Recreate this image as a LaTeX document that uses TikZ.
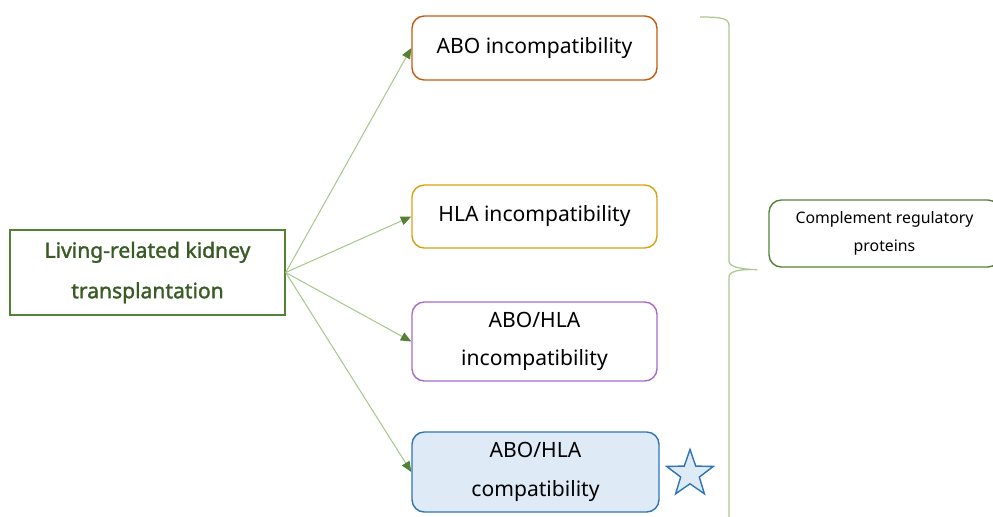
\documentclass[tikz,border=0pt]{standalone}
\usepackage{fontspec}
\setmainfont{Noto Sans}
\newfontfamily\rootfont{Noto Sans}[FakeBold=1.6]
\usetikzlibrary{arrows.meta, positioning, shapes.geometric}
\definecolor{leafgreen}{HTML}{548235}
\definecolor{palegreen}{HTML}{A9C98F}
\definecolor{aboorange}{HTML}{C55A11}
\definecolor{hlaamber}{HTML}{D9A012}
\definecolor{mixpurple}{HTML}{A66BCB}
\definecolor{okblue}{HTML}{2E75B6}
\definecolor{okfill}{HTML}{DEEBF7}
\tikzset{
    rootbox/.style={
        rectangle,
        draw=leafgreen,
        line width=0.8pt,
        minimum width=5.5cm,
        minimum height=1.7cm,
        align=center,
        text=leafgreen!70!black,
        font=\large\rootfont
    },
    groupbox/.style={
        rectangle,
        rounded corners=7pt,
        line width=0.8pt,
        minimum width=4.9cm,
        align=center,
        font=\large
    },
    notebox/.style={
        rectangle,
        rounded corners=7pt,
        draw=leafgreen,
        line width=0.8pt,
        minimum width=4.62cm,
        minimum height=1.34cm,
        align=center,
        font=\small
    },
    link/.style={
        draw=palegreen,
        line width=0.6pt,
        -{Triangle[length=6pt, width=5pt, color=leafgreen]}
    }
}

\begin{document}
\begin{tikzpicture}
\useasboundingbox (0,0) rectangle (19.86,10.32);

% root and the four groups
\node[rootbox] (root) at (2.95,4.87) {Living-related kidney\\[9pt]transplantation};

\node[groupbox, draw=aboorange, minimum height=1.28cm] (aboinc) at (10.69,9.36) {ABO incompatibility};
\node[groupbox, draw=hlaamber, minimum height=1.26cm] (hlainc) at (10.69,5.99) {HLA incompatibility};
\node[groupbox, draw=mixpurple, minimum height=1.58cm] (bothinc) at (10.69,3.49) {ABO/HLA\\[8pt]incompatibility};
\node[groupbox, draw=okblue, fill=okfill, minimum width=4.94cm, minimum height=1.6cm] (bothok) at (10.71,0.88) {ABO/HLA\\[8pt]compatibility};

\node[star, star points=5, star point ratio=2.5, draw=okblue, fill=okfill, line width=0.8pt, minimum size=0.98cm, inner sep=0pt] (mark) at (13.8,0.84) {};

% arrows from the root
\draw[link] (root.east) -- (aboinc.west);
\draw[link] (root.east) -- (hlainc.west);
\draw[link] (root.east) -- (bothinc.west);
\draw[link] (root.east) -- (bothok.west);

% brace and note
\node[notebox] (crp) at (17.69,5.65) {Complement regulatory\\[5pt]proteins};
\coordinate (tip) at ([xshift=-0.22cm,yshift=-0.04cm]crp.south west);
\draw[palegreen, line width=0.7pt] (14.0,9.98) .. controls (14.45,9.98) and (14.58,9.95) .. (14.58,9.8)
    -- (14.58,5.1) .. controls (14.58,4.98) and (14.8,4.94) .. (tip)
    .. controls (14.8,4.94) and (14.58,4.9) .. (14.58,4.78)
    -- (14.58,-0.3);
\end{tikzpicture}
\end{document}
